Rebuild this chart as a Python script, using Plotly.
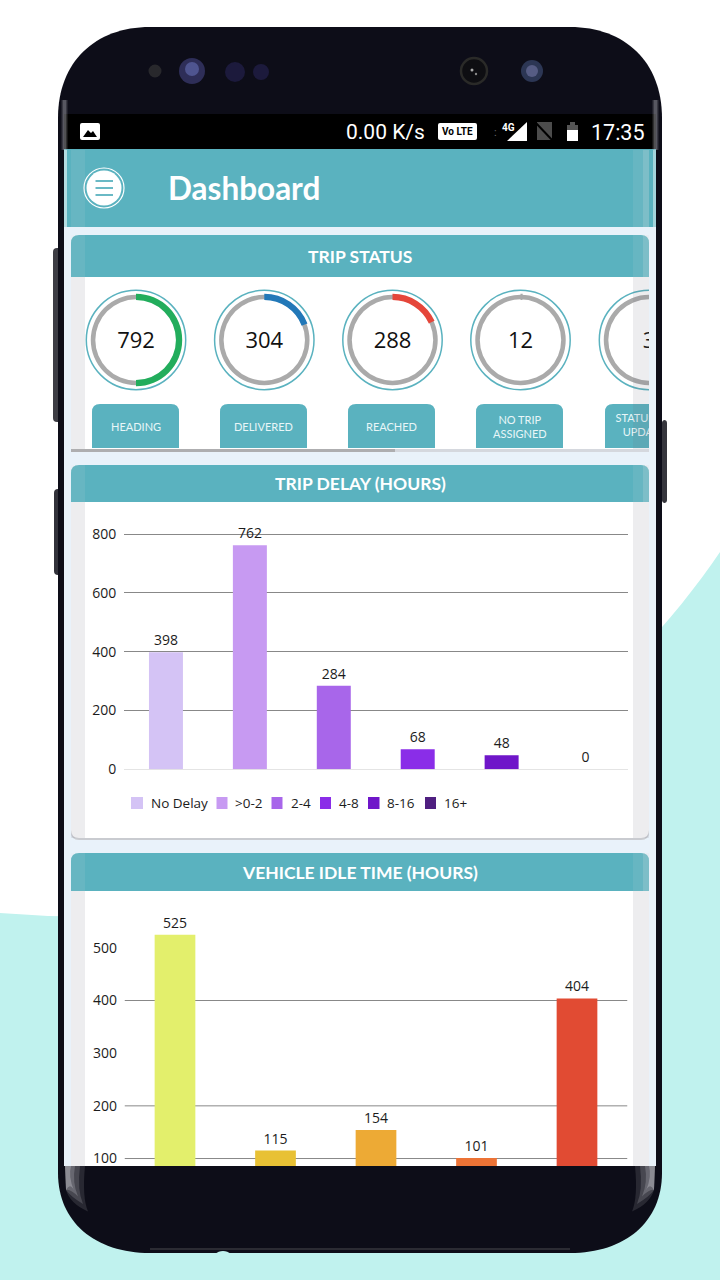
import plotly.graph_objects as go

# ---------- data ----------
gauge_labels = ["HEADING", "DELIVERED", "REACHED", "NO TRIP<br>ASSIGNED"]
gauge_clipped_label = "STATUS NOT<br>UPDATED"
gauge_values = [792, 304, 288, 12, 3]
gauge_total = 1584
gauge_colors = ["#22ad5c", "#2278b8", "#e5463a", "#aaaaaa", "#aaaaaa"]

delay_categories = ["No Delay", ">0-2", "2-4", "4-8", "8-16", "16+"]
delay_values = [398, 762, 284, 68, 48, 0]
delay_colors = ["#d4c3f5", "#c79af2", "#a866ea", "#8a2de8", "#6f16c9", "#4f1f80"]
delay_ticks = [0, 200, 400, 600, 800]

idle_categories = ["Bucket 1", "Bucket 2", "Bucket 3", "Bucket 4", "Bucket 5"]
idle_values = [525, 115, 154, 101, 404]
idle_colors = ["#e3ef6c", "#e8c135", "#edaa35", "#ec7336", "#e14b33"]
idle_ticks = [100, 200, 300, 400, 500]
idle_gridlines = [100, 200, 400]

# ---------- style ----------
TEAL = "#5ab2bf"
BODY = "#0d0d18"
SCREEN = "#e9f2fa"
MINT = "#c0f2ee"
UI = "Lato"
NUM = "Open Sans"
W, H = 720, 1280
X = lambda x: x / W
Y = lambda y: 1 - y / H

shapes, notes = [], []


def rect(x0, y0, x1, y1, fill, layer="below"):
    shapes.append(dict(type="rect", xref="paper", yref="paper", x0=X(x0), x1=X(x1), y0=Y(y0), y1=Y(y1),
                       fillcolor=fill, line=dict(width=0), layer=layer))


def circle(cx, cy, r, fill="rgba(0,0,0,0)", line=None, lw=0, layer="below"):
    shapes.append(dict(type="circle", xref="paper", yref="paper", x0=X(cx - r), x1=X(cx + r), y0=Y(cy - r), y1=Y(cy + r),
                       fillcolor=fill, line=dict(width=lw, color=line or fill), layer=layer))


def path(cmds, fill="rgba(0,0,0,0)", line=None, lw=0, layer="below"):
    parts = []
    for c in cmds:
        parts.append(c[0])
        v = c[1:]
        for i in range(0, len(v), 2):
            parts.append(f"{X(v[i]):.6f},{Y(v[i + 1]):.6f}")
    shapes.append(dict(type="path", xref="paper", yref="paper", path=" ".join(parts), fillcolor=fill,
                       line=dict(width=lw, color=line or "rgba(0,0,0,0)"), layer=layer))


def rrect(x0, y0, x1, y1, top, bottom, fill, layer="below"):
    path([("M", x0, y0 + top), ("Q", x0, y0, x0 + top, y0), ("L", x1 - top, y0), ("Q", x1, y0, x1, y0 + top),
          ("L", x1, y1 - bottom), ("Q", x1, y1, x1 - bottom, y1), ("L", x0 + bottom, y1), ("Q", x0, y1, x0, y1 - bottom),
          ("Z",)], fill=fill, layer=layer)


def note(x, y, text, size, color="#222222", family=UI, anchor="center", bold=False):
    notes.append(dict(xref="paper", yref="paper", x=X(x), y=Y(y), text=f"<b>{text}</b>" if bold else text,
                      showarrow=False, xanchor=anchor, yanchor="middle", align="center",
                      font=dict(size=size, color=color, family=family)))


# ---------- backdrop and phone ----------
path([("M", 0, 913), ("Q", 60, 918, 120, 916), ("C", 400, 900, 620, 700, 720, 552), ("L", 720, 1280), ("L", 0, 1280), ("Z",)], fill=MINT)
rrect(53, 248, 62, 422, 4, 4, "#3d3d44")
rrect(54, 489, 62, 575, 4, 4, "#32323a")
path([("M", 58, 118), ("C", 58, 62, 95, 27, 150, 27), ("L", 570, 27), ("C", 625, 27, 662, 62, 662, 118),
      ("L", 662, 1173), ("C", 662, 1222, 625, 1253, 570, 1253), ("L", 150, 1253), ("C", 95, 1253, 58, 1222, 58, 1173), ("Z",)], fill=BODY)
rect(150, 1248, 570, 1250, "#2b2b33")
circle(223, 1262, 11, fill=MINT)
# front sensors
circle(155, 71, 6.5, fill="#28282c")
circle(192, 71, 13, fill="#2e2e58")
circle(192, 69, 7, fill="#4f5590")
circle(235, 72, 10, fill="#1c1a3c")
circle(261, 72, 8, fill="#1c1a3c")
circle(474, 71, 13, fill="#0e0e12", line="#2a2a28", lw=2.5)
circle(472, 70, 1.5, fill="#aaaaaa")
circle(476, 74, 1.2, fill="#888888")
circle(532, 71, 11, fill="#2c3654")
circle(532, 71, 6, fill="#565c84")

# screen
rect(64, 114, 656, 150, "#000000")
rect(64, 149, 656, 1166, SCREEN)
rect(64, 149, 656, 227, TEAL)

# cards
rect(71, 449, 649, 452, "#d5d8de")
rect(71, 449, 395, 452, "#aeaeb0")
rrect(71, 235, 649, 449, 8, 0, "#ffffff")
rrect(71, 235, 649, 277, 8, 0, TEAL)
rrect(71, 465, 649, 840, 8, 8, "#c9cbd0")
rrect(71, 465, 649, 838, 8, 8, "#ffffff")
path([("M", 71, 502), ("L", 71, 473), ("Q", 71, 465, 79, 465), ("L", 641, 465), ("Q", 649, 465, 649, 473), ("L", 649, 502), ("Z",)], fill=TEAL)
rect(71, 861, 649, 1166, "#ffffff")
rrect(71, 853, 649, 891, 8, 0, TEAL)

# status bar
rrect(80, 123, 100, 140, 2, 2, "#ffffff")
path([("M", 83, 137), ("L", 88, 130), ("L", 91, 133), ("L", 93, 131), ("L", 97, 137), ("Z",)], fill="#000000")
note(385.5, 132, "0.00 K/s", 21, "#ffffff", "Roboto")
rrect(438, 123, 477, 140, 2, 2, "#ffffff")
note(457.5, 131.5, "Vo LTE", 10, "#000000", "Roboto", bold=True)
path([("M", 507, 141), ("L", 527, 122), ("L", 527, 141), ("Z",)], fill="#ffffff")
note(508, 127, "4G", 10, "#ffffff", "Roboto", bold=True)
note(495, 132, ":", 11, "#666666", "Roboto")
rect(537, 122, 552, 140, "#4c4c4c")
path([("M", 535, 122), ("L", 553, 141)], line="#000000", lw=2)
rect(567, 125, 578, 141, "#555555")
rect(570, 122, 575, 125, "#555555")
rect(567, 130, 578, 141, "#ffffff")
note(617.5, 132, "17:35", 21.5, "#ffffff", "Roboto")

# app bar
circle(104, 188, 20, line="#ffffff", lw=1.2)
circle(104, 188, 17.5, fill="#ffffff")
for yy in (181, 188, 195):
    rect(95.5, yy - 0.9, 113, yy + 0.9, TEAL)
note(243.5, 188, "Dashboard", 31.5, "#ffffff", bold=True)

# card titles
note(360, 256.5, "TRIP STATUS", 17.5, "#ffffff", bold=True)
note(360, 483.5, "TRIP DELAY (HOURS)", 17.5, "#ffffff", bold=True)
note(360, 872, "VEHICLE IDLE TIME (HOURS)", 17.5, "#ffffff", bold=True)

# gauges: thin grey ring under a thicker coloured arc
gauge_x = [136, 264.3, 392.5, 520.5, 649]
GY = 340
traces = []
for cx, val, col in zip(gauge_x, gauge_values, gauge_colors):
    circle(cx, GY, 49.7, line=TEAL, lw=1.5)
    for r, hole, vals, cols in ((45.2, 0.9, [gauge_total], ["#aaaaaa"]),
                                (46.2, 0.865, [val, gauge_total - val], [col, "rgba(0,0,0,0)"])):
        traces.append(go.Pie(values=vals, sort=False, direction="clockwise", rotation=0, hole=hole,
                             marker=dict(colors=cols, line=dict(width=0)), textinfo="none", hoverinfo="skip",
                             showlegend=False,
                             domain=dict(x=[X(cx - r), X(cx + r)], y=[Y(GY + r), Y(GY - r)])))

# tabs
tab_x = [92, 220, 348, 476]
for x0, lab in zip(tab_x, gauge_labels):
    path([("M", x0, 448), ("L", x0, 412), ("Q", x0, 404, x0 + 8, 404), ("L", x0 + 79, 404), ("Q", x0 + 87, 404, x0 + 87, 412),
          ("L", x0 + 87, 448), ("Z",)], fill=TEAL)
    note(x0 + 43.5, 426.5, lab, 11, "#e8f6f8")
path([("M", 605, 448), ("L", 605, 412), ("Q", 605, 404, 613, 404), ("L", 649, 404), ("L", 649, 448), ("Z",)], fill=TEAL)

# delay legend
leg_sw = [(131, 143), (216.5, 227.5), (271.5, 282.5), (320, 331), (368, 379.5), (425, 436)]
leg_tx = [149, 232.5, 288.5, 336.5, 385, 442]
for (a, b), t, lab, col in zip(leg_sw, leg_tx, delay_categories, delay_colors):
    rect(a, 797, b, 809, col)
    note(t, 803, lab, 13.5, "#1c1c1c", NUM, anchor="left")

# ---------- charts ----------
traces.append(go.Bar(x=delay_categories, y=delay_values, marker=dict(color=delay_colors, line=dict(width=0)),
                     text=[str(v) for v in delay_values], textposition="outside", cliponaxis=False, textangle=0,
                     textfont=dict(size=14, color="#1c1c1c", family=NUM), hoverinfo="skip", showlegend=False,
                     xaxis="x", yaxis="y"))
traces.append(go.Bar(x=idle_categories, y=idle_values, marker=dict(color=idle_colors, line=dict(width=0)),
                     text=[str(v) for v in idle_values], textposition="outside", cliponaxis=True, textangle=0,
                     textfont=dict(size=14, color="#1c1c1c", family=NUM), hoverinfo="skip", showlegend=False,
                     xaxis="x2", yaxis="y2"))
# centre values and the clipped tab text sit under the foreground cover
traces.append(go.Scatter(x=gauge_x, y=[GY + 2] * len(gauge_x), text=[str(v) for v in gauge_values], mode="text",
                         hoverinfo="skip", showlegend=False, textfont=dict(size=22, color="#111111", family=NUM),
                         xaxis="x3", yaxis="y3", cliponaxis=False))
traces.append(go.Scatter(x=[648], y=[426.5], text=[gauge_clipped_label], mode="text", hoverinfo="skip", showlegend=False,
                         textfont=dict(size=11, color="#e8f6f8", family=UI), xaxis="x3", yaxis="y3", cliponaxis=False))

for g in idle_gridlines:
    shapes.append(dict(type="line", xref="x2 domain", yref="y2", x0=0, x1=1, y0=g, y1=g,
                       line=dict(color="#888888", width=1), layer="below"))

tick_font = dict(size=14, color="#1c1c1c", family=NUM)
axis_tick = dict(ticklen=4, tickcolor="rgba(0,0,0,0)", ticks="outside", tickfont=tick_font, showline=False)

# ---------- foreground: screen edge glass and clipping of the fifth gauge ----------
rect(649, 280, 656, 449, SCREEN, "above")
rect(656, 280, 662, 449, BODY, "above")
rect(662, 280, 720, 449, "#ffffff", "above")
rrect(662, 420, 667, 503, 3, 3, "#35353c", "above")
for y0, y1 in ((277, 449), (502, 838), (891, 1166)):
    rect(71, y0, 85, y1, "rgba(110,110,120,0.12)", "above")
    rect(633, y0, 649, y1, "rgba(110,110,120,0.12)", "above")
for y0, y1 in ((235, 277), (465, 502), (853, 891), (150, 227)):
    rect(71, y0, 85, y1, "rgba(225,225,230,0.10)", "above")
    rect(633, y0, 649, y1, "rgba(225,225,230,0.10)", "above")
    rect(643, y0, 649, y1, "rgba(225,225,230,0.18)", "above")
rect(64, 150, 67, 227, "rgba(255,255,255,0.55)", "above")
rect(653, 150, 656, 227, "rgba(255,255,255,0.45)", "above")
# curved glass highlights at the top and bottom of the screen
for x0, x1, a in ((61, 68, 0.10), (62, 67, 0.14), (63, 66, 0.2)):
    rect(x0, 100, x1, 150, f"rgba(210,210,220,{a})", "above")
    rect(720 - x1, 100, 720 - x0, 150, f"rgba(210,210,220,{a})", "above")
for right, a in ((85, 0.12), (80, 0.16), (75, 0.2), (71, 0.28)):
    b = 1166 + (right - 64) * 1.5 + 14
    path([("M", 65, 1166), ("L", right, 1166), ("Q", right - 3, b - 14, right + 3, b), ("Q", 70, b - 8, 66, 1190), ("Z",)],
         fill=f"rgba(235,235,240,{a})", layer="above")
    path([("M", 655, 1166), ("L", 720 - right, 1166), ("Q", 723 - right, b - 14, 717 - right, b), ("Q", 650, b - 8, 654, 1190), ("Z",)],
         fill=f"rgba(235,235,240,{a})", layer="above")

fig = go.Figure(traces)
fig.update_layout(
    width=W, height=H, margin=dict(l=0, r=0, t=0, b=0, pad=0, autoexpand=False), paper_bgcolor="#ffffff",
    plot_bgcolor="rgba(0,0,0,0)", bargap=0.595, shapes=shapes, annotations=notes, showlegend=False,
    xaxis=dict(domain=[X(124), X(627.5)], anchor="y", showticklabels=False, showgrid=False, zeroline=False, ticks="",
               type="category", categoryorder="array", categoryarray=delay_categories),
    yaxis=dict(domain=[Y(769.3), Y(515)], anchor="x", range=[0, 864.7], tickvals=delay_ticks, showgrid=True,
               gridcolor="#888888", gridwidth=1, zeroline=True, zerolinecolor="#e4e4e4", zerolinewidth=1, **axis_tick),
    xaxis2=dict(domain=[X(124.75), X(627.25)], anchor="y2", showticklabels=False, showgrid=False, zeroline=False, ticks="",
                type="category", categoryorder="array", categoryarray=idle_categories),
    yaxis2=dict(domain=[Y(1166), Y(905)], anchor="x2", range=[85.8, 581.3], tickvals=idle_ticks, showgrid=False,
                zeroline=False, **axis_tick),
    xaxis3=dict(domain=[0, 1], range=[0, W], visible=False, anchor="y3", fixedrange=True),
    yaxis3=dict(domain=[0, 1], range=[H, 0], visible=False, anchor="x3", fixedrange=True),
)
fig.write_html("out.html", config=dict(displayModeBar=False),
               post_script="document.body.style.margin='0';document.documentElement.style.overflow='hidden';")
